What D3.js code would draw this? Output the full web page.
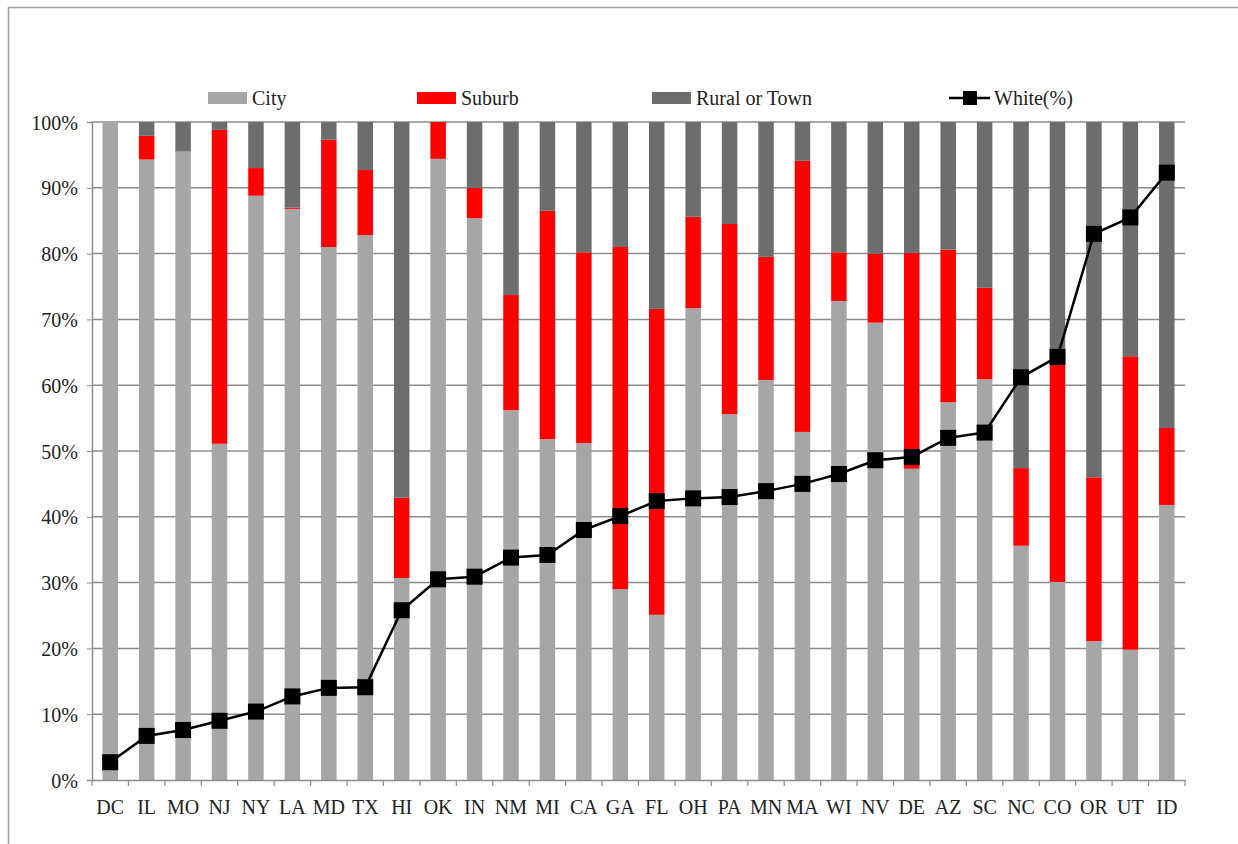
<!DOCTYPE html>
<html>
<head>
<meta charset="utf-8">
<script src="https://cdn.jsdelivr.net/npm/d3@7"></script>
<style>
  body { margin: 0; background: #fff; }
  svg text { font-family: "Liberation Serif", "DejaVu Serif", serif !important; }
</style>
</head>
<body>
<div id="chart"></div>
<script>
var states = ["DC","IL","MO","NJ","NY","LA","MD","TX","HI","OK","IN","NM","MI","CA","GA","FL","OH","PA","MN","MA","WI","NV","DE","AZ","SC","NC","CO","OR","UT","ID"];
var city   = [100, 94.3, 95.5, 51.1, 88.8, 86.8, 81.0, 82.8, 30.7, 94.4, 85.4, 56.2, 51.8, 51.2, 29.0, 25.1, 71.7, 55.6, 60.8, 52.9, 72.8, 69.5, 47.3, 57.4, 60.9, 35.6, 30.1, 21.1, 19.8, 41.8];
var suburb = [0, 3.6, 0, 47.7, 4.2, 0.2, 16.3, 9.9, 12.2, 5.6, 4.6, 17.5, 34.7, 29.0, 52.0, 46.5, 13.9, 28.9, 18.7, 41.2, 7.4, 10.5, 32.8, 23.2, 13.9, 11.8, 33.4, 24.9, 44.6, 11.7];
var rural  = [0, 2.1, 4.5, 1.2, 7.0, 13.0, 2.7, 7.3, 57.1, 0, 10.0, 26.3, 13.5, 19.8, 19.0, 28.4, 14.4, 15.5, 20.5, 5.9, 19.8, 20.0, 19.9, 19.4, 25.2, 52.6, 36.5, 54.0, 35.6, 46.5];
var white  = [2.7, 6.7, 7.6, 9.0, 10.4, 12.7, 14.0, 14.1, 25.8, 30.5, 30.9, 33.8, 34.2, 38.0, 40.1, 42.4, 42.8, 43.0, 43.9, 45.0, 46.5, 48.6, 49.1, 52.0, 52.8, 61.2, 64.3, 83.0, 85.5, 92.3];
var yTicks = [0, 10, 20, 30, 40, 50, 60, 70, 80, 90, 100];
var keys = ["City", "Suburb", "Rural or Town"];
var colors = ["#a6a6a6", "#ff0000", "#6d6d6d"];

var W = 1238, H = 844;
var margin = {top: 122, right: 53, bottom: 64, left: 92};
var w = W - margin.left - margin.right;
var h = H - margin.top - margin.bottom;
var serif = "'Liberation Serif', 'DejaVu Serif', serif";

var rows = states.map(function(s, i) {
  return {state: s, "City": city[i], "Suburb": suburb[i], "Rural or Town": rural[i], white: white[i]};
});

var svg = d3.select("#chart").append("svg")
  .attr("width", W).attr("height", H)
  .attr("font-family", serif);

// outer frame
svg.append("rect")
  .attr("x", 8.5).attr("y", 7.5)
  .attr("width", W).attr("height", H)
  .attr("fill", "none").attr("stroke", "#a0a0a0").attr("stroke-width", 1.5);

var g = svg.append("g")
  .attr("transform", "translate(" + margin.left + "," + margin.top + ")");

var x = d3.scaleBand().domain(states).range([0, w]).paddingInner(0.575).paddingOuter(0.2875);
var y = d3.scaleLinear().domain([0, 100]).range([h, 0]);

// gridlines
g.selectAll(".grid").data(yTicks.slice(1)).enter().append("line")
  .attr("x1", 0).attr("x2", w)
  .attr("y1", function(d) { return y(d); }).attr("y2", function(d) { return y(d); })
  .attr("stroke", "#8c8c8c").attr("stroke-width", 1.5);

// stacked bars
var stack = d3.stack().keys(keys)(rows);
g.selectAll(".layer").data(stack).enter().append("g")
  .attr("fill", function(d, i) { return colors[i]; })
  .selectAll("rect").data(function(d) { return d; }).enter().append("rect")
  .attr("x", function(d) { return x(d.data.state); })
  .attr("width", x.bandwidth())
  .attr("y", function(d) { return y(d[1]); })
  .attr("height", function(d) { return y(d[0]) - y(d[1]); });

// axes
var xAxis = d3.axisBottom(x).tickSize(0).tickPadding(20);
var gx = g.append("g")
  .attr("transform", "translate(0," + h + ")")
  .call(xAxis);
gx.attr("font-family", serif).attr("font-size", 20);
gx.selectAll("text").style("font-family", serif).style("font-size", "20px").attr("fill", "#222");
gx.select(".domain").attr("stroke", "#8c8c8c").attr("stroke-width", 1.5);
// tick marks between categories
var step = x.step();
gx.selectAll(".sep").data(d3.range(states.length + 1)).enter().append("line")
  .attr("x1", function(i) { return i * step; }).attr("x2", function(i) { return i * step; })
  .attr("y1", 0).attr("y2", 6)
  .attr("stroke", "#8c8c8c").attr("stroke-width", 1.2);

var yAxis = d3.axisLeft(y).tickValues(yTicks)
  .tickFormat(function(d) { return d + "%"; })
  .tickSize(5).tickPadding(9);
var gy = g.append("g").call(yAxis);
gy.attr("font-family", serif).attr("font-size", 20);
gy.selectAll("text").style("font-family", serif).style("font-size", "20px").attr("fill", "#222").attr("dy", "0.35em");
gy.selectAll("line").attr("stroke", "#8c8c8c");
gy.select(".domain").attr("stroke", "#8c8c8c").attr("stroke-width", 1.5);

// white (%) line
var line = d3.line()
  .x(function(d) { return x(d.state) + x.bandwidth() / 2; })
  .y(function(d) { return y(d.white); });
g.append("path").datum(rows)
  .attr("d", line)
  .attr("fill", "none").attr("stroke", "#000").attr("stroke-width", 2.5);
var ms = 16;
g.selectAll(".mk").data(rows).enter().append("rect")
  .attr("x", function(d) { return x(d.state) + x.bandwidth() / 2 - ms / 2; })
  .attr("y", function(d) { return y(d.white) - ms / 2; })
  .attr("width", ms).attr("height", ms)
  .attr("fill", "#000");

// legend
var legX = [208, 417, 652];
var leg = svg.append("g").attr("font-size", "20px").attr("fill", "#222");
keys.forEach(function(k, i) {
  leg.append("rect").attr("x", legX[i]).attr("y", 92).attr("width", 39).attr("height", 12).attr("fill", colors[i]);
  leg.append("text").attr("x", legX[i] + 44).attr("y", 105).text(k);
});
leg.append("line").attr("x1", 949).attr("x2", 990).attr("y1", 98).attr("y2", 98)
  .attr("stroke", "#000").attr("stroke-width", 2.5);
leg.append("rect").attr("x", 963).attr("y", 91).attr("width", 14).attr("height", 14).attr("fill", "#000");
leg.append("text").attr("x", 994).attr("y", 105).text("White(%)");
</script>
</body>
</html>
